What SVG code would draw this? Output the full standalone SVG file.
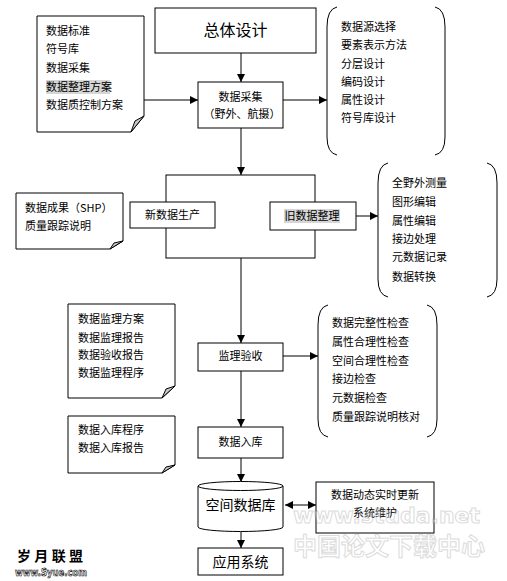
<svg xmlns="http://www.w3.org/2000/svg" width="507" height="581" viewBox="0 0 507 581">
<defs>
<marker id="ah" markerUnits="userSpaceOnUse" markerWidth="9" markerHeight="9" refX="8" refY="4" orient="auto">
<path d="M0,0 L8,4 L0,8 z" fill="#000"/>
</marker>
<marker id="ahs" markerUnits="userSpaceOnUse" markerWidth="9" markerHeight="9" refX="0" refY="4" orient="auto">
<path d="M8,0 L0,4 L8,8 z" fill="#000"/>
</marker>
<style>
.b{fill:#fff;stroke:#000;stroke-width:1}
.br{fill:none;stroke:#000;stroke-width:1}
.t{font-family:"Noto Sans CJK SC","Noto Sans CJK JP",sans-serif;font-size:11px;fill:#000}
.c{text-anchor:middle}
.fold{fill:#c8c8c8;stroke:#000;stroke-width:1}
.hl{fill:#d6d6d6}
.ln{fill:none;stroke:#000;stroke-width:1}
</style>
</defs>
<rect width="507" height="581" fill="#fff"/>

<g id="connectors">
<path class="ln" d="M241,53 L241,82" marker-end="url(#ah)"/>
<path class="ln" d="M144,100 L198,100" marker-end="url(#ah)"/>
<path class="ln" d="M283,100 L327,100" marker-end="url(#ah)"/>
<path class="ln" d="M241,128 L241,175" marker-end="url(#ah)"/>
<path class="ln" d="M356,216 L378,216" marker-end="url(#ah)"/>
<path class="ln" d="M241,258 L241,343" marker-end="url(#ah)"/>
<path class="ln" d="M283,356 L318,356" marker-end="url(#ah)"/>
<path class="ln" d="M241,371 L241,427" marker-end="url(#ah)"/>
<path class="ln" d="M241,458 L241,482" marker-end="url(#ah)"/>
<path class="ln" d="M241,532 L241,548" marker-end="url(#ah)"/>
<path class="ln" d="M285,505 L316,505" marker-start="url(#ahs)" marker-end="url(#ah)"/>
</g>

<g id="overall">
<rect class="b" x="155" y="8" width="161" height="45"/>
<text class="t c" x="235.5" y="36" style="font-size:16px">总体设计</text>
</g>

<g id="note1">
<path class="b" d="M37,16 L144,16 L144,116 L131,132 L37,132 z"/>
<path class="fold" d="M131,132 L135,121 L144,116 z"/>
<rect class="hl" x="46" y="80" width="64" height="14"/>
<text class="t" x="46" y="35">数据标准</text>
<text class="t" x="46" y="53">符号库</text>
<text class="t" x="46" y="72">数据采集</text>
<text class="t" x="46" y="91">数据整理方案</text>
<text class="t" x="46" y="109">数据质控制方案</text>
</g>

<g id="collect">
<rect class="b" x="198" y="82" width="85" height="46"/>
<text class="t c" x="240.5" y="101">数据采集</text>
<text class="t c" x="242" y="118">（野外、航摄）</text>
</g>

<g id="brace1">
<path class="br" d="M337,7 Q327,9 327,27 L327,137 Q327,153 337,155"/>
<path class="br" d="M435,7 Q445,9 445,27 L445,137 Q445,153 435,155"/>
<text class="t" x="341" y="31">数据源选择</text>
<text class="t" x="341" y="49">要素表示方法</text>
<text class="t" x="341" y="68">分层设计</text>
<text class="t" x="341" y="86">编码设计</text>
<text class="t" x="341" y="104">属性设计</text>
<text class="t" x="341" y="122">符号库设计</text>
</g>

<g id="production">
<rect class="b" x="166" y="175" width="149" height="83"/>
</g>

<g id="newdata">
<rect class="b" x="130" y="202" width="85" height="26"/>
<text class="t c" x="172.5" y="219">新数据生产</text>
</g>

<g id="olddata">
<rect class="b" x="270" y="202" width="86" height="28"/>
<rect class="hl" x="284" y="209" width="56" height="14"/>
<text class="t c" x="312" y="220">旧数据整理</text>
</g>

<g id="note2">
<path class="b" d="M16,193 L123,193 L123,241 L110,249 L16,249 z"/>
<path class="fold" d="M110,249 L114,243 L123,241 z"/>
<text class="t" x="25" y="212">数据成果（SHP）</text>
<text class="t" x="25" y="230">质量跟踪说明</text>
</g>

<g id="brace2">
<path class="br" d="M388,163 Q378,165 378,183 L378,279 Q378,295 388,297"/>
<path class="br" d="M487,163 Q497,165 497,183 L497,279 Q497,295 487,297"/>
<text class="t" x="392" y="187">全野外测量</text>
<text class="t" x="392" y="206">图形编辑</text>
<text class="t" x="392" y="225">属性编辑</text>
<text class="t" x="392" y="243">接边处理</text>
<text class="t" x="392" y="261">元数据记录</text>
<text class="t" x="392" y="281">数据转换</text>
</g>

<g id="note3">
<path class="b" d="M68,304 L175,304 L175,386 L162,398 L68,398 z"/>
<path class="fold" d="M162,398 L166,389 L175,386 z"/>
<text class="t" x="78" y="323">数据监理方案</text>
<text class="t" x="78" y="342">数据监理报告</text>
<text class="t" x="78" y="359">数据验收报告</text>
<text class="t" x="78" y="377">数据监理程序</text>
</g>

<g id="supervise">
<rect class="b" x="198" y="343" width="85" height="28"/>
<text class="t c" x="240.5" y="360">监理验收</text>
</g>

<g id="brace3">
<path class="br" d="M328,305 Q318,307 318,325 L318,419 Q318,435 328,437"/>
<path class="br" d="M427,305 Q437,307 437,325 L437,419 Q437,435 427,437"/>
<text class="t" x="332" y="327">数据完整性检查</text>
<text class="t" x="332" y="346">属性合理性检查</text>
<text class="t" x="332" y="365">空间合理性检查</text>
<text class="t" x="332" y="383">接边检查</text>
<text class="t" x="332" y="402">元数据检查</text>
<text class="t" x="332" y="421">质量跟踪说明核对</text>
</g>

<g id="note4">
<path class="b" d="M68,416 L175,416 L175,465 L162,473 L68,473 z"/>
<path class="fold" d="M162,473 L166,467 L175,465 z"/>
<text class="t" x="78" y="434">数据入库程序</text>
<text class="t" x="78" y="452">数据入库报告</text>
</g>

<g id="store">
<rect class="b" x="198" y="427" width="85" height="31"/>
<text class="t c" x="240.5" y="446">数据入库</text>
</g>

<g id="database">
<path class="b" d="M198,486 A42.5,4.5 0 0 1 283,486 L283,527 A42.5,4.5 0 0 1 198,527 z"/>
<path class="br" d="M198,486 A42.5,4.5 0 0 0 283,486"/>
<text class="t c" x="240.5" y="510" style="font-size:14px">空间数据库</text>
</g>

<g id="app">
<rect class="b" x="198" y="548" width="85" height="27"/>
<text class="t c" x="240.5" y="567" style="font-size:14px">应用系统</text>
</g>

<g id="update">
<rect class="b" x="316" y="482" width="118" height="51"/>
<text class="t c" x="375" y="499">数据动态实时更新</text>
<text class="t c" x="375" y="517">系统维护</text>
</g>

<g id="watermark">
<text x="17" y="561" textLength="66" lengthAdjust="spacing" style="font-family:'Noto Sans CJK SC',sans-serif;font-size:14px;font-weight:bold;fill:#000">岁月联盟</text>
<text x="15" y="576" textLength="72" lengthAdjust="spacingAndGlyphs" style="font-family:'DejaVu Sans',sans-serif;font-size:11px;font-weight:bold;fill:#fff;stroke:#000;stroke-width:0.7">www.Syue.com</text>
<g opacity="0.35">
<text x="293" y="523" textLength="187" lengthAdjust="spacingAndGlyphs" style="font-family:'DejaVu Sans',sans-serif;font-size:21px;font-weight:bold;fill:#fff;stroke:#999;stroke-width:1">www.studa.net</text>
<text x="293" y="555" textLength="192" lengthAdjust="spacingAndGlyphs" style="font-family:'Noto Sans CJK SC',sans-serif;font-size:24px;font-weight:bold;fill:#fff;stroke:#999;stroke-width:1">中国论文下载中心</text>
</g>
</g>
</svg>
